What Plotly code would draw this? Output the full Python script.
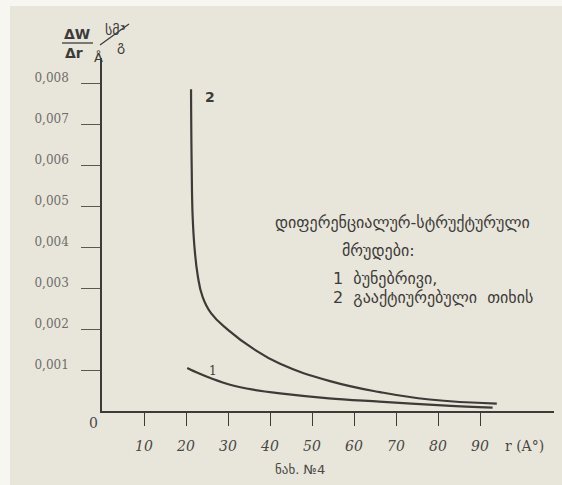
import plotly.graph_objects as go

# Data
r2 = [21.2, 21.35, 21.6, 22.1, 22.8, 23.9, 26.0, 30.0, 36.0, 42.4, 54.3, 66.2, 78.0, 94.0]
w2 = [0.00785, 0.0060, 0.0047, 0.0039, 0.0033, 0.0028, 0.00238, 0.00198, 0.00152, 0.00115, 0.00073, 0.00046, 0.00028, 0.00018]
r1 = [20.3, 23.0, 26.4, 30.5, 36.0, 42.4, 54.0, 66.0, 82.0, 93.0]
w1 = [0.00105, 0.00092, 0.00078, 0.00064, 0.00052, 0.00043, 0.00031, 0.00023, 0.00013, 0.00008]

x_ticks = [10, 20, 30, 40, 50, 60, 70, 80, 90]
x_tick_labels = ["10", "20", "30", "40", "50", "60", "70", "80", "90"]
y_ticks = [0.001, 0.002, 0.003, 0.004, 0.005, 0.006, 0.007, 0.008]
y_tick_labels = ["0,001", "0,002", "0,003", "0,004", "0,005", "0,006", "0,007", "0,008"]

legend_lines = ["დიფერენციალურ-სტრუქტურული", "მრუდები:", "1  ბუნებრივი,", "2  გააქტიურებული  თიხის"]
caption = "ნახ. №4"

PAPER = "#e8e6db"
INK = "#3d3b38"
FONT = "DejaVu Sans"

fig = go.Figure()
fig.add_trace(go.Scatter(x=r2, y=w2, mode="lines", line=dict(color=INK, width=2.2, shape="spline", smoothing=1.3),
                         showlegend=False, hoverinfo="skip"))
fig.add_trace(go.Scatter(x=r1, y=w1, mode="lines", line=dict(color=INK, width=2.2, shape="spline", smoothing=1.0),
                         showlegend=False, hoverinfo="skip"))

L, T, R, B = 102, 58, 8, 74
W, H = 562, 485
pw, ph = W - L - R, H - T - B

fig.update_layout(
    width=W, height=H,
    margin=dict(l=L, r=R, t=T, b=B, pad=0),
    paper_bgcolor=PAPER, plot_bgcolor=PAPER,
    font=dict(family=FONT, color=INK),
    xaxis=dict(range=[0, pw / 4.2], showgrid=False, zeroline=False, showline=True, linecolor=INK, linewidth=1.6,
               tickmode="array", tickvals=x_ticks, ticktext=x_tick_labels, ticks="outside", ticklen=13,
               tickcolor=INK, tickwidth=1.2, ticklabelstandoff=8,
               tickfont=dict(family="DejaVu Serif", size=14, color="#4a4845", style="italic")),
    yaxis=dict(range=[0, ph / 41000.0], showgrid=False, zeroline=False, showline=True, linecolor=INK, linewidth=1.6,
               tickmode="array", tickvals=y_ticks, ticktext=y_tick_labels, ticks="outside", ticklen=19,
               tickcolor="#5a5855", tickwidth=1.2, ticklabelstandoff=10, ticklabelshift=-5,
               tickfont=dict(family="DejaVu Serif", size=12, color="#6e6c68")),
)

def px_x(p):
    return (p - L) / pw

def px_y(p):
    return (H - B - p) / ph

# white scan border (top and left)
fig.add_shape(type="rect", xref="paper", yref="paper", x0=px_x(0), x1=px_x(10), y0=px_y(H), y1=px_y(0),
              fillcolor="#f7f6f1", line=dict(width=0), layer="below")
fig.add_shape(type="rect", xref="paper", yref="paper", x0=px_x(0), x1=px_x(W), y0=px_y(6), y1=px_y(0),
              fillcolor="#f7f6f1", line=dict(width=0), layer="below")

ann = []
def txt(x, y, s, size=13, color=INK, family=FONT, xanchor="left", **kw):
    ann.append(dict(xref="paper", yref="paper", x=px_x(x), y=px_y(y), text=s, showarrow=False,
                    xanchor=xanchor, yanchor="middle", font=dict(size=size, color=color, family=family), **kw))

# y-axis unit label
txt(77, 34, "<b>ΔW</b>", size=14, xanchor="center")
txt(74, 53, "<b>Δr</b>", size=14, xanchor="center")
fig.add_shape(type="line", xref="paper", yref="paper", x0=px_x(62), x1=px_x(93), y0=px_y(43), y1=px_y(43),
              line=dict(color=INK, width=1.3))
txt(115, 30, "სმ³", size=14, xanchor="center")
fig.add_shape(type="line", xref="paper", yref="paper", x0=px_x(100), x1=px_x(129), y0=px_y(45), y1=px_y(24),
              line=dict(color=INK, width=1.3))
txt(98, 57, "Å", size=13, xanchor="center")
txt(121, 46, "გ", size=14, xanchor="center")

# origin and axis title
txt(93, 423, "0", size=14, family="DejaVu Serif", xanchor="center", color="#4a4845")
txt(503, 446, "r (A°)", size=14, family="DejaVu Serif", color="#4a4845")
txt(300, 469, caption, size=13, xanchor="center", color="#4a4845")

# curve labels
txt(203, 97, "<b>2</b>", size=14)
txt(207, 371, "1", size=12, family="DejaVu Serif")

# legend text block
txt(273, 222, legend_lines[0], size=16)
txt(340, 250, legend_lines[1], size=16)
txt(331, 278, legend_lines[2], size=16)
txt(331, 297, legend_lines[3], size=16)

fig.update_layout(annotations=ann)
fig.write_html("out.html")
